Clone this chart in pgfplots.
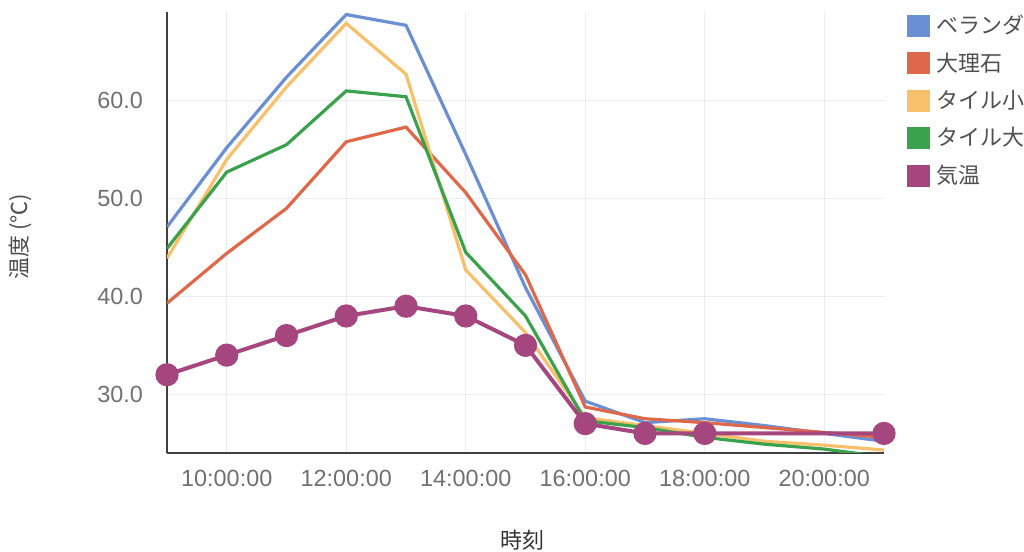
\documentclass[border=0pt]{standalone}
\usepackage{fontspec}
\setmainfont{Liberation Sans}
\newfontfamily\jp{Noto Sans CJK JP}
\usepackage{pgfplots}
\pgfplotsset{compat=1.18}

\definecolor{cVeranda}{HTML}{6A8FD3}
\definecolor{cMarble}{HTML}{E0684A}
\definecolor{cTileS}{HTML}{F8C06A}
\definecolor{cTileL}{HTML}{3AA14C}
\definecolor{cAir}{HTML}{A5467F}
\definecolor{tickgray}{HTML}{707070}
\definecolor{legendgray}{HTML}{505050}
\definecolor{gridgray}{HTML}{ECECEC}

\begin{document}
\begin{tikzpicture}
\begin{axis}[
  at={(83.5pt,49.5pt)}, anchor=south west,
  scale only axis, width=358.5pt, height=220.7pt,
  xmin=9, xmax=21, ymin=24, ymax=69.1,
  xtick={10,12,...,20},
  xticklabels={10:00:00,12:00:00,14:00:00,16:00:00,18:00:00,20:00:00},
  ytick={30,40,50,60},
  yticklabels={30.0,40.0,50.0,60.0},
  major tick length=0pt,
  grid=major, grid style={gridgray, line width=0.6pt},
  axis x line*=bottom, axis y line*=left,
  axis line style={draw=black!75, line width=0.8pt},
  tick label style={font=\fontsize{11.7}{14}\selectfont, text=tickgray},
  yticklabel style={xshift=-8.5pt},
  xticklabel style={yshift=-5pt},
  xlabel={\jp 時刻},
  xlabel style={at={(axis description cs:0.4965,-0.197)}, anchor=center,
    font=\fontsize{11}{13}\selectfont, text=black!80},
  ylabel={\jp 温度 (℃)},
  ylabel style={at={(axis description cs:-0.205,0.49)}, anchor=center,
    font=\fontsize{11}{13}\selectfont, text=black!70},
  clip mode=individual,
  legend cell align=left,
  legend style={at={(axis description cs:1.0317,1.002)}, anchor=north west,
    draw=none, fill=none, inner sep=0pt, row sep=4pt,
    font=\jp\fontsize{11}{13}\selectfont, text=legendgray},
  legend image code/.code={%
    \fill[#1, draw=none] (0pt,-5.5pt) rectangle (11.5pt,5.5pt);
    \path[draw=none, fill=none] (0pt,0pt) rectangle (12.8pt,0pt);},
]
% surface temperatures
\addplot[cVeranda, line width=1.6pt] coordinates {
  (9,47.1)(10,55.2)(11,62.4)(12,68.8)(13,67.7)(14,54.5)(15,40.9)
  (16,29.3)(17,27.1)(18,27.5)(19,26.8)(20,26.0)(21,25.2)};
\addlegendentry{ベランダ}
\addplot[cMarble, line width=1.6pt] coordinates {
  (9,39.3)(10,44.4)(11,49.0)(12,55.8)(13,57.3)(14,50.6)(15,42.2)
  (16,28.7)(17,27.5)(18,27.1)(19,26.6)(20,26.1)(21,25.6)};
\addlegendentry{大理石}
\addplot[cTileS, line width=1.6pt] coordinates {
  (9,43.9)(10,54.0)(11,61.4)(12,67.9)(13,62.7)(14,42.7)(15,36.3)
  (16,27.6)(17,26.8)(18,26.0)(19,25.2)(20,24.8)(21,24.3)};
\addlegendentry{タイル小}
\addplot[cTileL, line width=1.6pt] coordinates {
  (9,44.9)(10,52.7)(11,55.5)(12,61.0)(13,60.4)(14,44.5)(15,38.0)
  (16,27.3)(17,26.6)(18,25.6)(19,24.9)(20,24.4)(21,23.6)};
\addlegendentry{タイル大}
% air temperature (no readings at 19:00 and 20:00)
\addplot[cAir, line width=2pt, mark=*, mark size=4.8pt,
  mark options={fill=cAir, draw=cAir}] coordinates {
  (9,32)(10,34)(11,36)(12,38)(13,39)(14,38)(15,35)
  (16,27)(17,26)(18,26)(21,26)};
\addlegendentry{気温}
\end{axis}
\pgfresetboundingbox
\path[use as bounding box] (0,0) rectangle (512pt,276pt);
\end{tikzpicture}
\end{document}
